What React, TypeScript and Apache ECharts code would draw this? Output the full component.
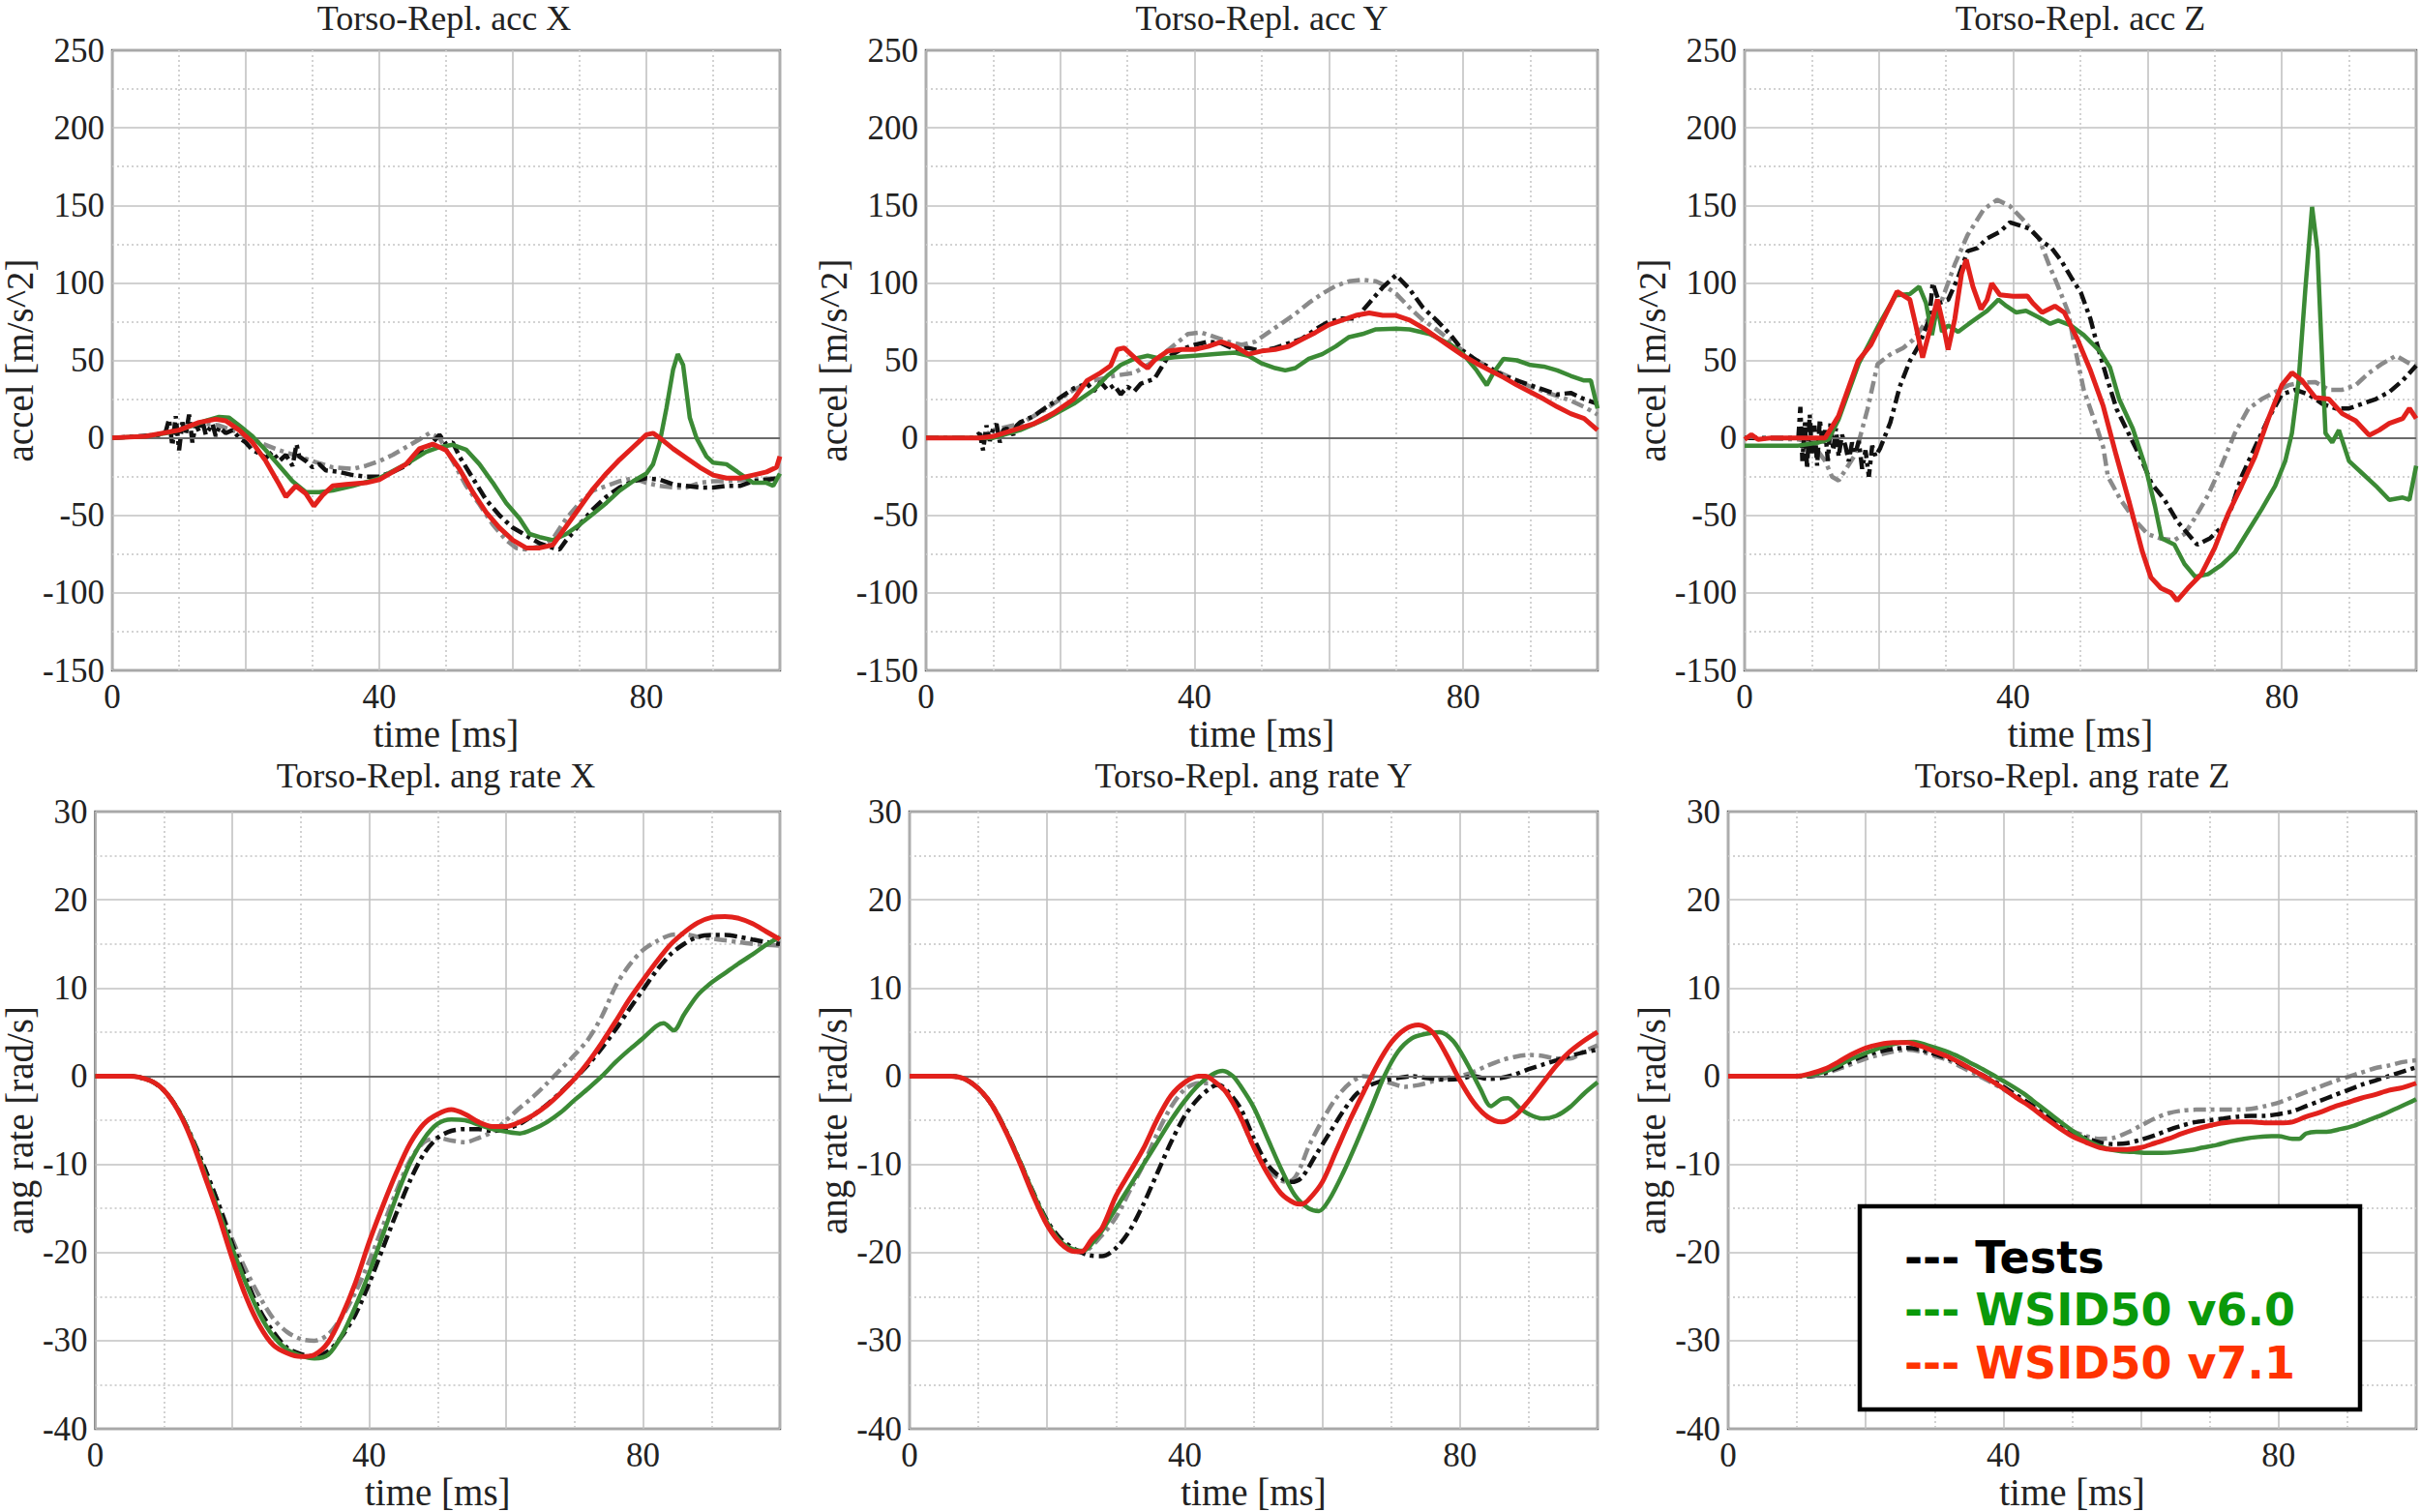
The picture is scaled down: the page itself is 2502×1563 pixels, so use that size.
import React, { useEffect, useRef } from "react";
import * as echarts from "echarts";

type P = [number, number][];

// ---------------- DATA (time [ms], value) ----------------
// Torso-Repl. acc X
const accX_test1: P = [[0,0],[4,1],[7,2],[8,4],[8.5,12],[9,-5],[9.5,14],[10,-8],[10.5,10],[11,2],[11.5,15],[12,-3],[12.5,9],[13,4],[13.5,11],[14,2],[15,9],[15.5,1],[16,7],[17,3],[18,5],[19,0],[20,-3],[21,-8],[22,-10],[23,-13],[24,-9],[25,-15],[26,-11],[27,-18],[27.6,-4],[28,-12],[29,-15],[30,-19],[31,-17],[32,-21],[34,-22],[36,-24],[38,-25],[40,-25],[42,-22],[44,-18],[46,-10],[48,-3],[49,2],[50,-4],[51,-3],[52,-12],[54,-26],[56,-40],[58,-50],[60,-58],[62,-63],[64,-68],[66,-71],[67,-72],[68,-66],[70,-56],[72,-46],[74,-38],[76,-32],[78,-28],[80,-26],[82,-27],[84,-30],[86,-31],[88,-32],[90,-32],[92,-31],[94,-31],[96,-28],[98,-27],[100,-26]];
const accX_test2: P = [[0,0],[5,1],[8,3],[10,6],[12,8],[14,9],[16,8],[18,5],[20,1],[22,-3],[25,-8],[28,-12],[30,-15],[33,-19],[36,-20],[38,-18],[40,-15],[42,-11],[44,-6],[46,-1],[47.5,3],[49,0],[51,-15],[53,-31],[55,-43],[57,-56],[59,-66],[60.5,-71],[62,-72],[64,-70],[66,-65],[68,-52],[70,-42],[72,-34],[74,-31],[76,-28],[78,-26],[80,-29],[82,-31],[84,-32],[86,-32],[88,-29],[90,-28],[92,-28],[95,-27],[100,-26]];
const accX_v60: P = [[0,0],[5,1],[8,3],[10,5],[12,8],[14,11],[16,13.5],[17.5,13],[19,8],[21,1],[23,-8],[25,-18],[27,-28],[29,-35],[31,-35],[33,-34],[36,-31],[40,-26],[44,-17],[47,-9],[49,-6],[51,-4.5],[53,-7.6],[55,-17],[57,-29],[59,-42],[61,-52],[62.5,-62],[64,-64],[66,-66],[68,-62],[70,-56],[72,-49],[74,-42],[76,-34],[78,-28],[80,-23],[81,-17],[82,-3],[83,19],[84,44],[84.7,54],[85.5,47],[86.5,13],[87.5,0],[89,-12],[90,-16],[92,-17],[94,-23],[96,-29],[98,-29],[99,-31],[100,-23]];
const accX_v71: P = [[0,0],[5,1],[10,5],[13,10],[15.5,12],[17,11],[19,5],[21,-3],[23,-15],[25,-30],[26,-38],[27.5,-31],[29,-36],[30.2,-44],[31.5,-37],[33,-31],[35,-30],[38,-29],[40,-27],[42,-22],[44,-17],[46,-7],[48,-4],[50,-8],[52,-20],[54,-35],[56,-48],[58,-58],[60,-66],[62,-71],[64,-71],[66,-69],[68,-57],[70,-45],[72,-33],[74,-23],[76,-14],[78,-6],[80,2],[81,3],[82,0],[84,-7],[86,-13],[88,-19],[90,-24],[92,-26],[94,-26],[96,-24],[98,-22],[99.5,-19],[100,-12]];

// Torso-Repl. acc Y
const accY_test1: P = [[0,0],[7,0],[8,3],[8.5,-8],[9,8],[9.5,-2],[10,6],[10.5,9],[11,-3],[11.5,5],[12,6],[13,2],[13.5,8],[14,10],[16,14],[18,20],[20,26],[22,32],[24,35],[25,30],[26,36],[27,31],[28,34],[29,28],[30,33],[31,30],[32,35],[34,38],[35,45],[36,52],[38,57],[40,60],[42,62],[44,61],[46,57],[48,58],[50,56],[52,58],[54,61],[56,64],[58,70],[60,75],[62,77],[64,77],[66,87],[68,97],[70,105],[72,96],[74,84],[76,76],[78,67],[80,56],[82,50],[84,45],[86,40],[88,37],[90,34],[92,31],[94,28],[96,29],[98,25],[100,22]];
const accY_test2: P = [[0,0],[8,0],[10,5],[14,9],[18,19],[22,31],[25,37],[28,40],[31,42],[33,47],[35,53],[37,60],[39,67],[41,68],[43,65],[45,62],[47,60],[49,62],[51,68],[53,74],[55,80],[57,87],[59,93],[61,98],[63,101],[65,102],[67,101],[68,99],[70,93],[72,84],[74,76],[76,70],[78,63],[80,56],[82,50],[84,45],[86,41],[88,37],[90,33],[92,30],[94,27],[96,24],[98,20],[100,15]];
const accY_v60: P = [[0,0],[10,0],[14,5],[18,12.5],[22,22],[25,31],[27,40],[29,47],[31,51],[33,53],[35,51],[37,52],[40,53],[43,54],[46,55],[48,53],[50,48],[52,45],[53.5,43.5],[55,45],[57,51],[59,54],[61,59],[63,65],[65,67],[67,70],[70,70.5],[72,70],[75,67],[78,60.5],[80,54],[82,43.5],[83.5,34],[84.5,42],[86,51],[88,50],[90,47],[92,46],[94,43.5],[96,40],[98,37],[99,37],[100,19]];
const accY_v71: P = [[0,0],[8,0],[10,1],[13,5],[16,9],[19,16],[22,25],[24,37],[26,42],[27.5,46.6],[28.5,57],[29.5,58],[30.5,54],[32,48],[33,45],[34,50],[36,56],[38,57],[40,57],[42,59],[44,62],[46,59],[48,54],[50,56],[52,57],[54,59],[56,63.6],[58,68],[60,73],[62,76],[64,79],[66,80.6],[68,79],[70,79],[72,76],[74,71],[76,65],[78,59],[80,53],[82,48],[84,43.5],[86,39],[88,34],[90,29.6],[92,25],[94,20],[96,15.6],[98,12.5],[100,5]];

// Torso-Repl. acc Z
const accZ_test1: P = [[0,0],[8,0],[8.3,20],[8.6,-15],[9,10],[9.3,-20],[9.7,15],[10,-10],[10.4,8],[10.8,-18],[11.2,12],[11.6,-5],[12,5],[12.4,-15],[12.8,10],[13.2,-8],[13.6,6],[14,-12],[14.5,2],[15,-5],[15.5,-15],[16,-3],[16.5,-10],[17,-2],[17.5,-20],[18,-8],[18.5,-25],[19,-5],[19.5,-12],[20.2,-6.5],[21.7,10],[23.1,33],[24.6,49.6],[26,60],[27.5,76.7],[28,100],[29,87],[30.3,89],[31.8,103.7],[33.2,120.4],[34.7,122.5],[36.1,128.7],[38,132.9],[39.5,139],[41,137],[42.4,135],[44.3,126.6],[45.7,122.5],[47.2,114],[48.6,103.7],[50.1,93.4],[51.5,76.7],[52.5,60],[53.9,39.3],[55.4,18.5],[57.3,1.8],[59.2,-15],[60.6,-29.4],[62.5,-39.8],[64.5,-54.3],[67.4,-68.9],[69.3,-64.8],[71.2,-57],[72.5,-45],[74,-25],[76,-6],[78,12.5],[80,28],[82,31],[84,28],[86,22],[88,19],[90,19],[92,22],[94,25],[96,29.6],[98,37],[100,46.6]];
const accZ_test2: P = [[0,0],[8,-1],[10,-3],[12,-15],[13,-25],[14,-27.5],[16.5,-10.6],[18.3,18.5],[19.8,47.6],[21.7,53.8],[23.6,58],[25.1,63.2],[27,74.6],[29.4,89.2],[31.3,112],[33.2,130.8],[35.6,147.4],[37.6,153.6],[39.5,149.5],[41.4,141],[43.8,128.7],[45.3,112],[46.7,97.5],[48.2,80.9],[49.1,60],[50.5,31],[52.5,6],[53.4,-6],[54.1,-25],[56,-40],[58,-52.5],[60,-62],[62,-65],[64,-66],[65.5,-62],[67,-52],[69,-37],[71,-18],[73,3],[75,18.7],[77,25],[79,29.6],[81,34],[83,35.8],[85,36],[87,31],[89,31],[91,34],[93,42],[95,48],[97,53],[99,48],[100,46]];
const accZ_v60: P = [[0,-5],[8,-5],[11,-3],[12.5,-1],[14,12],[17,48],[20,73],[22.5,92],[24.6,92.7],[26,97.5],[27,87],[27.9,66.3],[28.7,85],[29.4,68.4],[30.3,72.5],[31.8,68.4],[33.7,74.6],[36.1,81.9],[37.8,89.2],[39,85],[40.4,80.9],[41.9,82],[43.8,77.8],[45.5,73.6],[46.7,75.7],[48.6,72.5],[50.5,66.3],[52.9,55.9],[54.4,45.5],[55.8,24.7],[57.8,6],[59.7,-19],[61.1,-44],[62.1,-64.8],[64,-68.9],[65.5,-81.4],[67.1,-89.6],[69,-88],[71,-82],[73,-74],[75,-60],[77,-46],[79,-31],[80.5,-15],[81.5,3],[82.5,37],[83.5,96],[84.5,149],[85.3,121],[86,50],[86.5,3],[87.5,-3],[88.5,5],[90,-15],[92,-23],[94,-31],[96,-40],[98,-38.5],[99,-40],[100,-18]];
const accZ_v71: P = [[0,-1],[1,2],[2,-1],[4,0],[12,0],[14,14.3],[16.9,49.6],[18.8,60],[20.7,76.7],[22.7,94.4],[24.6,89.2],[25.5,72.5],[26.5,51.8],[27.5,68.4],[28.7,89.2],[29.6,72.5],[30.3,56.9],[31.3,76.7],[32.3,105.8],[33,115],[34,97.5],[35.2,83],[36.1,89],[36.8,99.6],[38,92.3],[40,91.3],[42.1,91.5],[42.9,87],[44.3,80.9],[46.2,85],[47.6,80.9],[49.5,64.2],[51.5,43.4],[53.4,20.5],[55.3,-10.7],[57.3,-41.9],[59.2,-73],[60.5,-90],[62,-97],[63.5,-100],[64.4,-105],[66,-97],[68,-88],[70,-71],[72,-49],[74,-31],[76,-12],[78,12.5],[80,34],[81.5,42],[83,37],[85,26],[87,25],[89,15.6],[91,11],[93,1.7],[94.5,5],[96,9.4],[98,12.5],[99,19],[100,12.5]];

// Torso-Repl. ang rate X
const angX_test1: P = [[0,0],[5,0],[8,-0.5],[10,-1.6],[12,-3.7],[14,-6.8],[16,-10.5],[18,-14.5],[20,-19],[22,-23],[24,-26.5],[26,-29],[28,-30.8],[30,-31.5],[32,-31.8],[34,-31.2],[36,-29.5],[38,-27],[40,-23.5],[42,-19.5],[44,-15.5],[46,-11.8],[48,-8.8],[50,-7],[52,-6.2],[54,-6],[56,-6],[58,-6.2],[60,-6],[62,-5.4],[64,-4.4],[66,-3.2],[68,-1.8],[70,-0.3],[72,1.3],[74,3.2],[76,5.3],[78,7.6],[80,9.8],[82,12],[84,13.8],[86,15],[88,15.8],[90,16],[92,16],[94,15.8],[96,15.5],[98,15.2],[100,15]];
const angX_test2: P = [[0,0],[5,0],[8,-0.5],[10,-1.6],[12,-3.7],[14,-6.8],[16,-10.5],[18,-14.5],[20,-18.5],[22,-22],[24,-25],[26,-27.5],[28,-29],[30,-29.8],[32,-30],[34,-29.3],[36,-27.3],[38,-24.5],[40,-21],[42,-17],[44,-13],[46,-9.5],[48,-7.5],[50,-7],[52,-7.3],[54,-7.5],[56,-7],[58,-6.3],[60,-5],[62,-3.6],[64,-2.3],[66,-0.8],[68,0.8],[70,2.4],[72,4.2],[74,6.8],[76,10.2],[78,12.6],[80,14.3],[82,15.3],[84,16],[86,16.1],[88,15.8],[90,15.6],[92,15.4],[94,15.2],[96,15],[98,14.9],[100,14.8]];
const angX_v60: P = [[0,0],[5,0],[8,-0.5],[10,-1.6],[12,-3.7],[14,-6.9],[16,-11],[18,-15.3],[20,-19.5],[22,-23.5],[24,-27],[26,-29.5],[28,-31],[30,-31.7],[32,-32],[34,-31.6],[36,-29.4],[38,-26.1],[40,-22.3],[42,-18],[44,-13.6],[46,-9.8],[48,-7.1],[50,-5.4],[52,-4.9],[54,-5],[56,-5.5],[58,-6],[60,-6.3],[62,-6.5],[64,-6],[66,-5.2],[68,-4.1],[70,-2.7],[72,-1.4],[74,0],[76,1.6],[78,3],[80,4.3],[82,5.7],[83,6],[84.5,5.2],[86,7],[88,9.2],[90,10.6],[92,11.7],[94,12.8],[96,13.8],[98,14.9],[100,15.8]];
const angX_v71: P = [[0,0],[5,0],[8,-0.5],[10,-1.6],[12,-3.8],[14,-7.1],[16,-11.4],[18,-15.8],[20,-20.7],[22,-25],[24,-28.3],[26,-30.5],[28,-31.4],[30,-31.8],[32,-31.6],[34,-30.2],[36,-27.2],[38,-23.4],[40,-18.8],[42,-14.7],[44,-10.9],[46,-7.6],[48,-5.4],[50,-4.3],[52,-3.8],[54,-4.3],[56,-5.2],[58,-5.7],[60,-5.7],[62,-5.2],[64,-4.4],[66,-3.3],[68,-1.9],[70,-0.3],[72,1.6],[74,3.8],[76,6.2],[78,8.7],[80,10.9],[82,13],[84,14.9],[86,16.3],[88,17.4],[90,18],[92,18.1],[94,17.9],[96,17.3],[98,16.4],[100,15.5]];

// Torso-Repl. ang rate Y
const angY_test1: P = [[0,0],[6,0],[8,-0.3],[10,-1.4],[12,-3.3],[14,-6.2],[16,-9.6],[18,-13.2],[20,-16.4],[22,-18.5],[24,-19.6],[26,-20.3],[28,-20.4],[30,-19.5],[32,-17.5],[34,-14.5],[36,-11],[38,-7.5],[40,-4.5],[42,-2.5],[44,-1.2],[45,-1],[46,-1.5],[48,-3.5],[50,-7],[52,-10],[54,-11.5],[55.5,-12],[57,-11.5],[59,-9],[61,-6.5],[63,-4],[65,-2],[67,-1],[69,-0.5],[71,-0.2],[73,0],[75,-0.2],[78,-0.4],[80,-0.3],[82,0],[84,-0.3],[86,-0.2],[88,0.2],[90,0.8],[92,1.3],[94,1.8],[96,2.3],[98,2.7],[100,3]];
const angY_test2: P = [[0,0],[6,0],[8,-0.3],[10,-1.4],[12,-3.3],[14,-6.2],[16,-9.7],[18,-13.4],[20,-16.7],[22,-18.8],[24,-19.8],[25,-20],[28,-18],[30,-16],[32,-13],[34,-10],[36,-6.5],[38,-3.5],[40,-1.5],[42,-0.8],[44,-0.8],[46,-1.8],[48,-4.5],[50,-8],[52,-10.5],[54,-11.8],[55,-12],[56,-11.5],[57,-10],[58,-8],[60,-5],[62,-2.5],[64,-0.8],[66,0],[68,-0.3],[70,-0.8],[72,-1.2],[74,-1],[76,-0.6],[78,-0.2],[80,0],[82,0.5],[84,1.2],[86,1.8],[88,2.2],[90,2.4],[92,2.3],[94,2],[96,2],[98,2.8],[100,3.5]];
const angY_v60: P = [[0,0],[6,0],[8,-0.3],[10,-1.4],[12,-3.3],[14,-6.2],[16,-9.6],[18,-13.3],[20,-16.6],[22,-18.8],[24,-19.7],[25.3,-19.8],[27,-18.5],[28,-17.5],[30,-15],[32,-12.5],[34,-10],[36,-7.5],[38,-5],[40,-2.8],[42,-1],[44,0.2],[45.5,0.6],[47,0],[48,-1],[50,-3.5],[52,-7],[54,-10.5],[56,-13.5],[58,-15],[59.5,-15.3],[61,-14],[63,-11],[65,-7.5],[67,-3.8],[69,0],[71,2.8],[73,4.3],[75,4.8],[77,5],[79,4],[81,1.5],[83,-1.5],[84.5,-3.4],[86,-2.6],[87,-2.5],[88.5,-3.5],[90,-4.3],[92,-4.8],[94,-4.5],[96,-3.5],[98,-2],[100,-0.7]];
const angY_v71: P = [[0,0],[6,0],[8,-0.3],[10,-1.4],[12,-3.3],[14,-6.3],[16,-9.8],[18,-13.6],[20,-16.9],[22,-19],[24,-19.9],[25,-19.9],[26.5,-18.5],[28,-17.2],[30,-13.6],[32,-10.9],[34,-8.2],[36,-4.9],[38,-2.2],[40,-0.7],[42,0],[43,0],[44,-0.4],[46,-1.8],[48,-4.5],[50,-8],[52,-11],[54,-13.3],[56,-14.4],[57,-14.5],[58,-14],[60,-12],[62,-8.5],[64,-5],[66,-1.8],[68,1.3],[70,3.8],[72,5.3],[74,5.8],[76,5],[78,2.5],[80,-0.5],[82,-3],[84,-4.6],[86,-5.2],[88,-4.5],[90,-2.8],[92,-0.8],[94,1.2],[96,2.8],[98,4],[100,5]];

// Torso-Repl. ang rate Z
const angZ_test1: P = [[0,0],[12,0],[16,1],[20,2.4],[24,3.1],[26,3.2],[28,3],[30,2.5],[32,2],[34,1.3],[36,0.5],[38,-0.3],[40,-1.2],[42,-2.2],[44,-3.2],[46,-4.3],[48,-5.4],[50,-6.3],[52,-7],[54,-7.5],[56,-7.7],[58,-7.6],[60,-7.2],[62,-6.7],[64,-6.1],[66,-5.6],[68,-5.2],[70,-5],[72,-4.8],[74,-4.6],[76,-4.5],[78,-4.5],[80,-4.3],[82,-4],[84,-3.4],[86,-2.8],[88,-2.2],[90,-1.6],[92,-1],[94,-0.5],[96,0],[98,0.5],[100,1]];
const angZ_test2: P = [[0,0],[12,0],[16,0.8],[20,2],[24,2.8],[26,3],[28,2.8],[30,2.3],[32,1.8],[34,1],[36,0.2],[38,-0.6],[40,-1.5],[42,-2.4],[44,-3.4],[46,-4.4],[48,-5.4],[50,-6.2],[52,-6.8],[54,-7.1],[56,-7],[58,-6.4],[60,-5.6],[62,-4.8],[64,-4.2],[66,-3.9],[68,-3.8],[70,-3.8],[72,-3.8],[74,-3.8],[76,-3.7],[78,-3.4],[80,-3],[82,-2.4],[84,-1.8],[86,-1.2],[88,-0.6],[90,-0.1],[92,0.4],[94,0.9],[96,1.2],[98,1.6],[100,1.8]];
const angZ_v60: P = [[0,0],[10,0],[14,0.5],[18,2],[22,3.2],[25,3.8],[27,3.9],[29,3.5],[31,3],[33,2.4],[35,1.6],[37,0.8],[39,-0.1],[41,-1],[43,-2],[45,-3.2],[47,-4.4],[49,-5.6],[51,-6.7],[53,-7.6],[55,-8.2],[57,-8.5],[59,-8.6],[61,-8.7],[63,-8.7],[65,-8.6],[67,-8.4],[69,-8.1],[71,-7.8],[73,-7.4],[75,-7.1],[77,-6.9],[79,-6.8],[80,-6.8],[82,-7.1],[83,-7.1],[84,-6.5],[85.5,-6.3],[87,-6.3],[89,-6],[91,-5.6],[93,-5],[95,-4.4],[97,-3.7],[99,-3],[100,-2.6]];
const angZ_v71: P = [[0,0],[10,0],[12,0.3],[14,0.8],[16,1.6],[18,2.5],[20,3.2],[22,3.6],[24,3.8],[26,3.8],[28,3.4],[30,2.8],[32,2.2],[34,1.4],[36,0.5],[38,-0.4],[40,-1.4],[42,-2.5],[44,-3.5],[46,-4.7],[48,-5.8],[50,-6.8],[52,-7.5],[54,-8.1],[56,-8.3],[58,-8.3],[60,-8.1],[62,-7.6],[64,-7.1],[66,-6.5],[68,-6],[70,-5.6],[72,-5.3],[74,-5.2],[76,-5.2],[78,-5.3],[80,-5.3],[82,-5.2],[84,-4.6],[86,-4.1],[88,-3.5],[90,-3],[92,-2.5],[94,-2.1],[96,-1.6],[98,-1.3],[100,-0.8]];

const TITLES = [
  "Torso-Repl. acc X", "Torso-Repl. acc Y", "Torso-Repl. acc Z",
  "Torso-Repl. ang rate X", "Torso-Repl. ang rate Y", "Torso-Repl. ang rate Z",
];
const Y_NAMES = ["accel [m/s^2]", "ang rate [rad/s]"];
const X_NAME = "time [ms]";
const Y_RANGES = [[-150, 250, 50], [-40, 30, 10]];
const X_RANGE = [0, 100, 20];
const PANEL_DATA: P[][] = [
  [accX_test2, accX_test1, accX_v60, accX_v71],
  [accY_test2, accY_test1, accY_v60, accY_v71],
  [accZ_test2, accZ_test1, accZ_v60, accZ_v71],
  [angX_test2, angX_test1, angX_v60, angX_v71],
  [angY_test2, angY_test1, angY_v60, angY_v71],
  [angZ_test2, angZ_test1, angZ_v60, angZ_v71],
];
const LEGEND_LABELS = ["--- Tests", "--- WSID50 v6.0", "--- WSID50 v7.1"];

// ---------------- STYLE / LAYOUT ----------------
const W = 2502, H = 1563;
const SERIF = '"Liberation Serif", "Times New Roman", serif';
const ROW_TOP = [52, 839];
const ROW_H = [641, 640];
const COL_LEFT = [[112, 957, 1803], [95, 940, 1786]];
const COL_W = [694, 711];
const Y_NAME_GAP = [70, 54];
const TITLE_Y = [19, 802];
const SERIES_STYLE = [
  { color: "#8a8a8a", width: 4.5, type: [13, 5, 4, 5] as any },
  { color: "#111111", width: 4.5, type: [13, 5, 4, 5] as any },
  { color: "#3b8a35", width: 4.5, type: "solid" as any },
  { color: "#e2211c", width: 5, type: "solid" as any },
];
const LEGEND_COLORS = ["#000000", "#0a990a", "#ff3300"];

function buildOption() {
  const grids: any[] = [], xAxes: any[] = [], yAxes: any[] = [], series: any[] = [], graphics: any[] = [];
  for (let i = 0; i < 6; i++) {
    const row = i < 3 ? 0 : 1, col = i % 3;
    const left = COL_LEFT[row][col], top = ROW_TOP[row], width = COL_W[row], height = ROW_H[row];
    grids.push({ left, top, width, height, show: true, borderColor: "#5c5c5c", borderWidth: 2.5, backgroundColor: "#ffffff", z: 0 });
    xAxes.push({
      gridIndex: i, type: "value", min: X_RANGE[0], max: X_RANGE[1], interval: X_RANGE[2],
      axisLine: { show: false }, axisTick: { show: false },
      axisLabel: { formatter: (v: number) => (v % 40 === 0 && v < 100 ? String(v) : ""), fontFamily: SERIF, fontSize: 35, color: "#222", margin: 10 },
      splitLine: { show: true, lineStyle: { color: "#c2c2c2", width: 1.6 } },
      minorTick: { show: false, splitNumber: 2 },
      minorSplitLine: { show: true, lineStyle: { color: "#d2d2d2", width: 2, type: [2, 3] } },
      name: X_NAME, nameLocation: "middle", nameGap: row === 0 ? 40 : 41,
      nameTextStyle: { fontFamily: SERIF, fontSize: 39, color: "#222" },
    });
    const [ymin, ymax, yint] = Y_RANGES[row];
    yAxes.push({
      gridIndex: i, type: "value", min: ymin, max: ymax, interval: yint,
      axisLine: { show: false }, axisTick: { show: false },
      axisLabel: { fontFamily: SERIF, fontSize: 35, color: "#222", margin: 8 },
      splitLine: { show: true, lineStyle: { color: "#c2c2c2", width: 1.6 } },
      minorTick: { show: false, splitNumber: 2 },
      minorSplitLine: { show: true, lineStyle: { color: "#d2d2d2", width: 2, type: [2, 3] } },
      name: Y_NAMES[row], nameLocation: "middle", nameGap: Y_NAME_GAP[row], nameRotate: 90,
      nameTextStyle: { fontFamily: SERIF, fontSize: 39, color: "#222" },
    });
    PANEL_DATA[i].forEach((d, k) => {
      const st = SERIES_STYLE[k];
      const s: any = {
        type: "line", xAxisIndex: i, yAxisIndex: i, data: d,
        showSymbol: false, symbol: "none", smooth: row === 1 ? 0.3 : false,
        lineStyle: { color: st.color, width: st.width, type: st.type },
        z: 3 + k, silent: true,
      };
      if (k === 0) {
        s.markLine = {
          silent: true, symbol: ["none", "none"], label: { show: false },
          lineStyle: { color: "#6a6a6a", width: 2, type: "solid" },
          data: [{ yAxis: 0 }], animation: false,
        };
      }
      series.push(s);
    });
    graphics.push({
      type: "text", z: 10,
      style: {
        text: TITLES[i], x: left + width / 2, y: TITLE_Y[row],
        textAlign: "center", textVerticalAlign: "middle", align: "center", verticalAlign: "middle",
        font: `36px ${SERIF}`, fill: "#222",
      },
    });
  }
  // legend box
  graphics.push({
    type: "rect", z: 20,
    shape: { x: 1922, y: 1247, width: 517, height: 210 },
    style: { fill: "#ffffff", stroke: "#000000", lineWidth: 4.5 },
  });
  const baselines = [1300, 1354, 1409];
  LEGEND_LABELS.forEach((t, j) => {
    graphics.push({
      type: "text", z: 21,
      style: {
        text: t, x: 1968, y: baselines[j],
        textAlign: "left", textVerticalAlign: "middle", align: "left", verticalAlign: "middle",
        font: `bold 46px "DejaVu Sans", Verdana, sans-serif`, fill: LEGEND_COLORS[j],
      },
    });
  });
  return {
    animation: false,
    backgroundColor: "#ffffff",
    grid: grids, xAxis: xAxes, yAxis: yAxes, series, graphic: graphics,
  };
}

export default function App() {
  const ref = useRef<HTMLDivElement>(null);
  useEffect(() => {
    if (!ref.current) return;
    const chart = echarts.init(ref.current, null, { renderer: "svg", width: W, height: H });
    chart.setOption(buildOption() as any);
    return () => chart.dispose();
  }, []);
  return (
    <div
      ref={ref}
      style={{ position: "absolute", left: 0, top: 0, width: W, height: H, background: "#fff" }}
    />
  );
}
